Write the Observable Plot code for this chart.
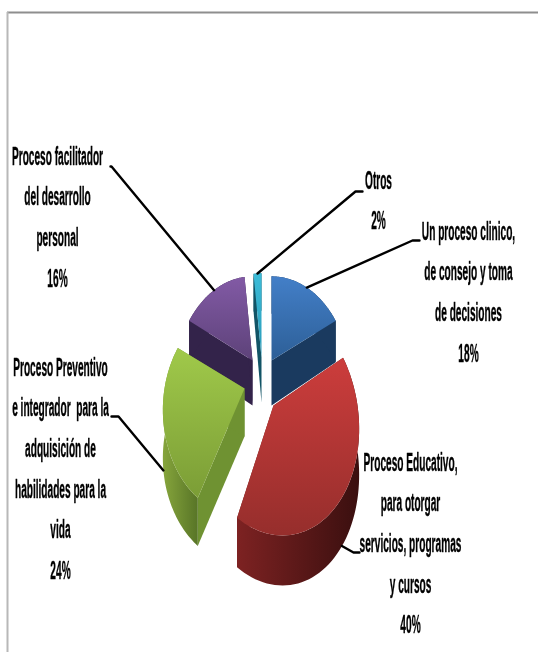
<!DOCTYPE html>
<html><head><meta charset="utf-8">
<style>html,body{margin:0;padding:0;background:#fff}svg{display:block;filter:blur(.35px)}</style>
<script src="https://cdn.jsdelivr.net/npm/d3@7"></script>
<script src="https://cdn.jsdelivr.net/npm/@observablehq/plot@0.6"></script>
</head><body><div id="chart"></div>
<script>
// Data, in drawing order clockwise from 12 o'clock
const categories = ["Un proceso clínico", "Proceso Educativo", "Proceso Preventivo", "Proceso facilitador", "Otros"];
const values = [18, 40, 24, 16, 2];
const labelTexts = [
  "Un proceso clinico,\nde consejo y toma\nde decisiones",
  "Proceso Educativo,\npara otorgar\nservicios, programas\ny cursos",
  "Proceso Preventivo\ne integrador  para la\nadquisición de\nhabilidades para la\nvida",
  "Proceso facilitador\ndel desarrollo\npersonal",
  "Otros"
];

// Layout and style, separate from the data
const W = 538, H = 652;
const sliceLayout = [
  {ax: 271, ay: 360, rx: 77, ry: 101, k: 0.2, shear: 0, depth: 45, depthPow: 1},
  {ax: 273, ay: 405, rx: 84, ry: 117, k: 0.1, shear: 0.07, depth: 45, depthPow: 1},
  {ax: 244, ay: 388, rx: 80, ry: 103, k: 0.2, shear: 0, depth: 48, depthPow: 0},
  {ax: 252, ay: 360, rx: 76, ry: 101, k: 0.2, shear: 0, depth: 45, depthPow: 1},
  {ax: 261, ay: 357, rx: 76, ry: 101, k: 0.2, shear: 0, depth: 45, depthPow: 1}
];
const sliceStyle = [
  {top: "gBlue", cut: "#1a3a5f", wall: "#1a3a5f"},
  {top: "gRed", cut: "#6e1c1c", wall: "url(#gRedWall)"},
  {top: "gGreen", cut: "#6f9232", wall: "url(#gGreenWall)"},
  {top: "gPurple", cut: "#33234a", wall: "#33234a"},
  {top: "gCyan", cut: "#125466", wall: "#125466"}
];
const labelLayout = [
  {x: 468, y: 232, elbow: [412, 240], end: 419, base: false},
  {x: 410, y: 463, elbow: [353, 552], end: 359, base: true},
  {x: 60, y: 368, elbow: [118, 416], end: 111, base: true},
  {x: 57, y: 157, elbow: [111, 166], end: 110, base: false},
  {x: 378, y: 181, elbow: [355, 191], end: 362, base: false}
];
const gradients = [
  ["gBlue", "#437fc8", "#2d5f97", 0],
  ["gRed", "#cc3d3c", "#962e2c", 0],
  ["gGreen", "#a0c94a", "#7b9d36", 0],
  ["gPurple", "#825aa5", "#5d4279", 0],
  ["gCyan", "#3cbcd8", "#2a9ab8", 0],
  ["gRedWall", "#7d2222", "#3a0f0f", 1],
  ["gGreenWall", "#86a53c", "#587527", 1]
];
const fontSize = 25, lineStep = 40.6, squeeze = 0.405;

// Geometry derived from the values
const arcs = d3.pie().sort(null).value(d => d)(values);
function rim(i, angle) {
  const l = sliceLayout[i], w = 1 / (1 + l.k * Math.cos(angle));
  const dy = -l.ry * Math.cos(angle) * w;
  return {x: l.ax + l.rx * Math.sin(angle) * w + l.shear * dy, y: l.ay + dy, w};
}
const rimPath = (i, n = 60) => d3.range(n + 1).map(k => rim(i, arcs[i].startAngle + (arcs[i].endAngle - arcs[i].startAngle) * k / n));
const down = (i, p) => ({x: p.x, y: p.y + sliceLayout[i].depth * Math.pow(p.w ?? 1, sliceLayout[i].depthPow)});

const sliceMarks = i => {
  const apex = {x: sliceLayout[i].ax, y: sliceLayout[i].ay, w: 1};
  const r = rimPath(i), s = sliceStyle[i];
  const first = r[0], last = r[r.length - 1];
  const shapes = [
    [[apex, first, down(i, first), down(i, apex)], s.cut],
    [[apex, last, down(i, last), down(i, apex)], s.cut],
    [[...r, ...r.map(p => down(i, p)).reverse()], s.wall],
    [[apex, ...r], `url(#${s.top})`]
  ];
  return shapes.map(([pts, fill]) => Plot.line(pts, {x: "x", y: "y", fill, stroke: "none", curve: "linear"}));
};

const leaders = labelLayout.map((l, i) => {
  const p = rim(i, (arcs[i].startAngle + arcs[i].endAngle) / 2);
  const a = l.base ? down(i, p) : p;
  return [a, {x: l.elbow[0], y: l.elbow[1]}, {x: l.end, y: l.elbow[1]}];
});

const labels = labelLayout.map((l, i) => ({x: l.x, y: l.y - fontSize * 0.86, text: `${labelTexts[i]}\n${values[i]}%`}));

const defs = () => {
  const svg = d3.create("svg:defs");
  for (const [id, a, b, horiz] of gradients) {
    const g = svg.append("linearGradient").attr("id", id)
      .attr("x1", 0).attr("y1", 0).attr("x2", horiz ? 1 : 0).attr("y2", horiz ? 0 : 1);
    g.append("stop").attr("offset", "0%").attr("stop-color", a);
    g.append("stop").attr("offset", "100%").attr("stop-color", b);
  }
  return svg.node();
};

const squeezeText = (index, scales, vals, dims, context, next) => {
  const g = next(index, scales, vals, dims, context);
  d3.select(g).selectAll("text").attr("transform", function () {
    return `${this.getAttribute("transform") || ""} scale(${squeeze},1)`;
  });
  return g;
};

const drawOrder = [4, 0, 3, 2, 1];
document.getElementById("chart").append(Plot.plot({
  width: W, height: H, margin: 0,
  style: {background: "#fff"},
  x: {domain: [0, W], range: [0, W], axis: null},
  y: {domain: [0, H], range: [0, H], axis: null},
  marks: [
    defs,
    Plot.ruleY([12], {x1: 7, x2: W, stroke: "#8e8e8e", strokeWidth: 2}),
    Plot.ruleX([7], {y1: 12, y2: H, stroke: "#b8b8b8", strokeWidth: 2}),
    ...drawOrder.flatMap(sliceMarks),
    ...leaders.map(pts => Plot.line(pts, {x: "x", y: "y", stroke: "#000", strokeWidth: 2.4, curve: "linear"})),
    Plot.text(labels, {
      x: "x", y: "y", text: "text", textAnchor: "middle", lineAnchor: "top",
      fontFamily: "Liberation Sans", fontWeight: "bold", stroke: "#000", strokeWidth: 0.4,
      fontSize, lineHeight: lineStep / fontSize, fill: "#000", render: squeezeText
    })
  ]
}));
</script></body></html>
